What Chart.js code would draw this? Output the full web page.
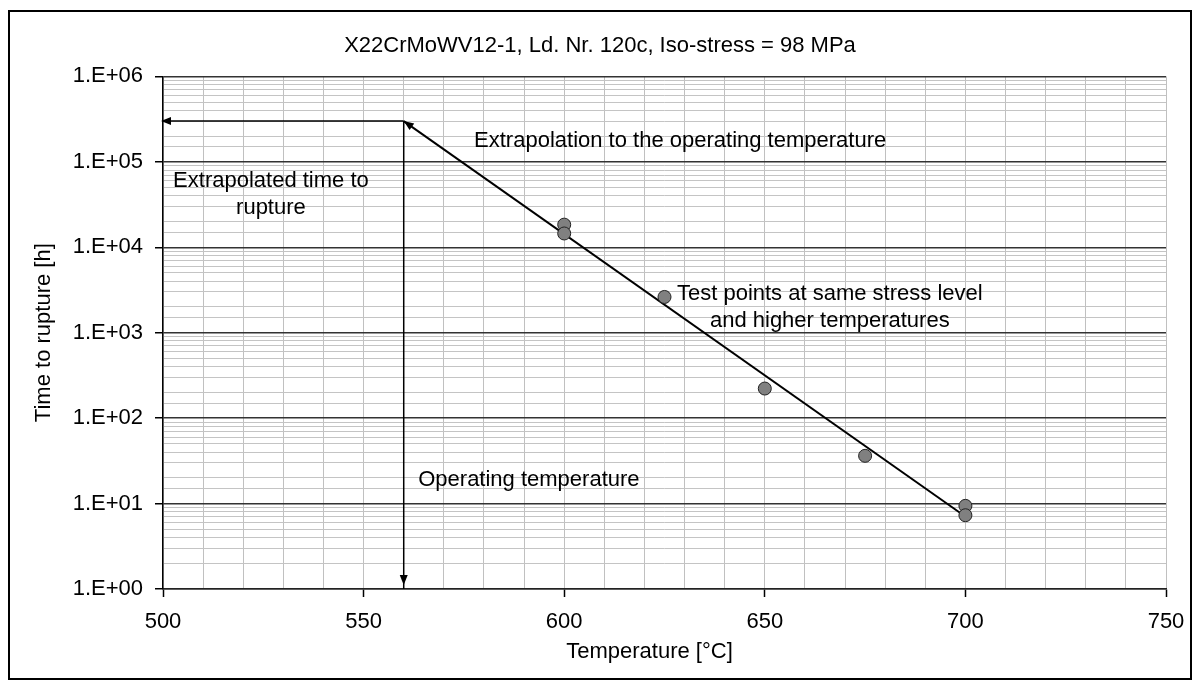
<!DOCTYPE html>
<html>
<head>
<meta charset="utf-8">
<title>Iso-stress extrapolation</title>
<script src="https://cdn.jsdelivr.net/npm/chart.js@4.4.1/dist/chart.umd.min.js"></script>
<style>
  html, body { margin: 0; padding: 0; background: #fff; }
  canvas { display: block; }
</style>
</head>
<body>
<canvas id="rupture" width="1200" height="690"></canvas>
<script>
// Test results at 98 MPa
const testTemps = [600, 600, 625, 650, 675, 700, 700];
const testHours = [18400, 14500, 2620, 222, 36.2, 9.4, 7.3];

// Fitted iso-stress line, from the hottest test down to the operating point
const fitTemps = [699, 560];
const fitHours = [7.6, 300000];

// Operating point
const operatingTemp = 560;
const extrapolatedHours = 300000;

// Axis limits and labels
const tempMin = 500;
const tempMax = 750;
const xTickLabels = [500, 550, 600, 650, 700, 750];
const yTickLabels = ['1.E+00', '1.E+01', '1.E+02', '1.E+03', '1.E+04', '1.E+05', '1.E+06'];

const FONT = "'Liberation Sans', Arial, sans-serif";
Chart.defaults.font.family = FONT;
Chart.defaults.font.size = 22;
Chart.defaults.color = '#000';

function decadeOf(v) {
  const e = Math.round(Math.log10(v));
  return Math.abs(v - Math.pow(10, e)) < 1e-6 * v ? e : -1;
}

function toPoints(xs, ys) {
  return xs.map((x, i) => ({ x: x, y: ys[i] }));
}

// Outer frame around the whole figure
const framePlugin = {
  id: 'frame',
  beforeDraw(chart) {
    const ctx = chart.ctx;
    ctx.save();
    ctx.fillStyle = '#fff';
    ctx.fillRect(0, 0, chart.width, chart.height);
    ctx.strokeStyle = '#000';
    ctx.lineWidth = 2;
    ctx.strokeRect(9, 11, chart.width - 18, chart.height - 22);
    ctx.restore();
  }
};

// Arrow heads at the last point of datasets flagged with arrowHead
const arrowPlugin = {
  id: 'arrows',
  afterDatasetsDraw(chart) {
    const ctx = chart.ctx;
    chart.data.datasets.forEach((ds, i) => {
      if (!ds.arrowHead) return;
      const pts = chart.getDatasetMeta(i).data;
      const a = pts[pts.length - 2], b = pts[pts.length - 1];
      const ang = Math.atan2(b.y - a.y, b.x - a.x);
      const inset = ds.arrowInset || 0;
      const tx = b.x - Math.cos(ang) * inset;
      const ty = b.y - Math.sin(ang) * inset;
      const len = 10, half = 4;
      ctx.save();
      ctx.translate(tx, ty);
      ctx.rotate(ang);
      ctx.fillStyle = '#000';
      ctx.beginPath();
      ctx.moveTo(0, 0);
      ctx.lineTo(-len, -half);
      ctx.lineTo(-len, half);
      ctx.closePath();
      ctx.fill();
      ctx.restore();
    });
  }
};

// Explanatory notes placed in data coordinates
const notes = [
  { lines: ['Extrapolation to the operating temperature'], x: 628.9, y: 1.78e5 },
  { lines: ['Extrapolated time to', 'rupture'], x: 526.9, y: 5.9e4 },
  { lines: ['Test points at same stress level', 'and higher temperatures'], x: 666.2, y: 2820 },
  { lines: ['Operating temperature'], x: 591.2, y: 18.8 }
];

const notesPlugin = {
  id: 'notes',
  afterDraw(chart) {
    const ctx = chart.ctx;
    const sx = chart.scales.x, sy = chart.scales.y;
    ctx.save();
    ctx.font = '22px ' + FONT;
    ctx.fillStyle = '#000';
    ctx.textAlign = 'center';
    ctx.textBaseline = 'middle';
    notes.forEach(n => {
      const px = sx.getPixelForValue(n.x);
      const py = sy.getPixelForValue(n.y);
      n.lines.forEach((t, k) => ctx.fillText(t, px, py + k * 26.5));
    });
    // x axis caption sits a little left of the plot centre
    ctx.fillText('Temperature [°C]', (sx.left + sx.right) / 2 - 15, sx.bottom - 38);
    ctx.restore();
  }
};

new Chart(document.getElementById('rupture'), {
  type: 'scatter',
  data: {
    datasets: [
      {
        label: 'Test points',
        data: toPoints(testTemps, testHours),
        pointRadius: 6.5,
        pointBackgroundColor: '#808080',
        pointBorderColor: '#222',
        pointBorderWidth: 1,
        clip: false
      },
      {
        label: 'Iso-stress fit',
        data: toPoints(fitTemps, fitHours),
        showLine: true,
        borderColor: '#000',
        borderWidth: 2,
        pointRadius: 0,
        arrowHead: true,
        clip: false
      },
      {
        label: 'Extrapolated time',
        data: toPoints([operatingTemp, tempMin], [extrapolatedHours, extrapolatedHours]),
        showLine: true,
        borderColor: '#000',
        borderWidth: 1.5,
        pointRadius: 0,
        arrowHead: true,
        arrowInset: -2,
        clip: false
      },
      {
        label: 'Operating temperature',
        data: toPoints([operatingTemp, operatingTemp], [extrapolatedHours, 1]),
        showLine: true,
        borderColor: '#000',
        borderWidth: 1.5,
        pointRadius: 0,
        arrowHead: true,
        arrowInset: 4,
        clip: false
      }
    ]
  },
  options: {
    responsive: false,
    animation: false,
    devicePixelRatio: 1,
    layout: { padding: { left: 34, right: 34, top: 0, bottom: 0 } },
    plugins: {
      legend: { display: false },
      tooltip: { enabled: false },
      title: {
        display: true,
        text: 'X22CrMoWV12-1, Ld. Nr. 120c, Iso-stress = 98 MPa',
        font: { size: 22, weight: 'normal' },
        color: '#000',
        padding: { top: 33, bottom: 17 }
      }
    },
    scales: {
      x: {
        type: 'linear',
        min: tempMin,
        max: tempMax,
        afterFit(scale) { scale.height = 101; },
        ticks: {
          stepSize: 10,
          autoSkip: false,
          maxRotation: 0,
          padding: 12,
          callback: v => xTickLabels.includes(v) ? String(v) : ''
        },
        grid: {
          color: '#c0c0c0',
          lineWidth: 1,
          tickLength: 8,
          tickWidth: 1.5,
          tickColor: ctx => xTickLabels.includes(ctx.tick.value) ? '#000' : 'rgba(0,0,0,0)'
        },
        border: { color: '#222', width: 1.5 },
        title: { display: false }
      },
      y: {
        type: 'logarithmic',
        min: 1,
        max: 1e6,
        afterFit(scale) { scale.width = 129; },
        ticks: {
          autoSkip: false,
          padding: 12,
          callback: v => {
            const e = decadeOf(v);
            return e >= 0 ? yTickLabels[e] : '';
          }
        },
        grid: {
          color: ctx => decadeOf(ctx.tick.value) >= 0 ? '#333' : '#c4c4c4',
          lineWidth: ctx => decadeOf(ctx.tick.value) >= 0 ? 1.5 : 1,
          tickLength: 8,
          tickWidth: 1.5,
          tickColor: ctx => decadeOf(ctx.tick.value) >= 0 ? '#000' : 'rgba(0,0,0,0)'
        },
        border: { color: '#000', width: 1.5 },
        title: {
          display: true,
          text: 'Time to rupture [h]',
          font: { size: 22 },
          padding: { top: -3, bottom: 0 }
        }
      }
    }
  },
  plugins: [framePlugin, arrowPlugin, notesPlugin]
});
</script>
</body>
</html>
